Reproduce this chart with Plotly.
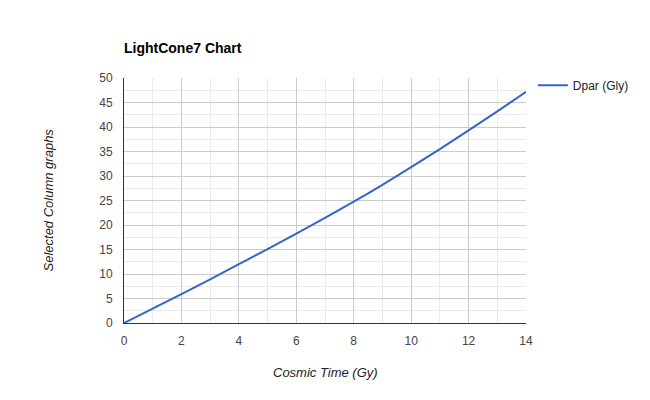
import plotly.graph_objects as go

cosmic_time = [0, 1, 2, 3, 4, 5, 6, 7, 8, 9, 10, 11, 12, 13, 14]
dpar_gly = [0, 2.95, 5.9, 8.9, 12.0, 15.1, 18.25, 21.45, 24.75, 28.2, 31.8, 35.5, 39.3, 43.2, 47.2]
x_ticks = [0, 2, 4, 6, 8, 10, 12, 14]
y_ticks = [0, 5, 10, 15, 20, 25, 30, 35, 40, 45, 50]

FONT = "Liberation Sans, Arial, sans-serif"

fig = go.Figure()
fig.add_trace(go.Scatter(
    x=cosmic_time, y=dpar_gly, mode="lines", name="Dpar (Gly)",
    line=dict(color="#3366cc", width=2, shape="spline", smoothing=1.0),
))

fig.update_layout(
    width=650, height=400,
    margin=dict(l=124, r=124, t=78, b=77),
    paper_bgcolor="white", plot_bgcolor="white",
    font=dict(family=FONT, size=12, color="#444"),
    title=dict(text="<b>LightCone7 Chart</b>", x=124/650, xanchor="left",
               xref="container", y=1-48/400, yref="container", yanchor="middle",
               font=dict(family=FONT, size=14, color="#000")),
    showlegend=True,
    legend=dict(x=1.017, xanchor="left", y=1.03, yanchor="top",
                font=dict(family=FONT, size=12, color="#222"),
                itemwidth=30, bgcolor="rgba(0,0,0,0)"),
    xaxis=dict(range=[0, 14], tickvals=x_ticks, showgrid=True, gridcolor="#cccccc",
               zeroline=False, showline=True, linecolor="#333", linewidth=1,
               ticks="outside", ticklen=7, tickcolor="rgba(0,0,0,0)",
               tickfont=dict(size=12, color="#444"), fixedrange=True,
               minor=dict(dtick=1, showgrid=True, gridcolor="#ebebeb")),
    yaxis=dict(range=[0, 50], tickvals=y_ticks, showgrid=True, gridcolor="#cccccc",
               zeroline=False, showline=True, linecolor="#333", linewidth=1,
               ticks="outside", ticklen=8, tickcolor="rgba(0,0,0,0)",
               tickfont=dict(size=12, color="#444"), fixedrange=True,
               minor=dict(dtick=2.5, showgrid=True, gridcolor="#ebebeb")),
    annotations=[
        dict(text="<i>Cosmic Time (Gy)</i>", xref="paper", yref="paper",
             x=0.5, y=-50/246, xanchor="center", yanchor="middle", showarrow=False,
             font=dict(family=FONT, size=13, color="#222")),
        dict(text="<i>Selected Column graphs</i>", xref="paper", yref="paper",
             x=-76/402, y=0.5, xanchor="center", yanchor="middle", showarrow=False,
             textangle=-90, font=dict(family=FONT, size=13, color="#222")),
    ],
)

fig.write_html("out.html", config={"displayModeBar": False},
               post_script="document.body.style.margin='0';document.body.style.overflow='hidden';")
